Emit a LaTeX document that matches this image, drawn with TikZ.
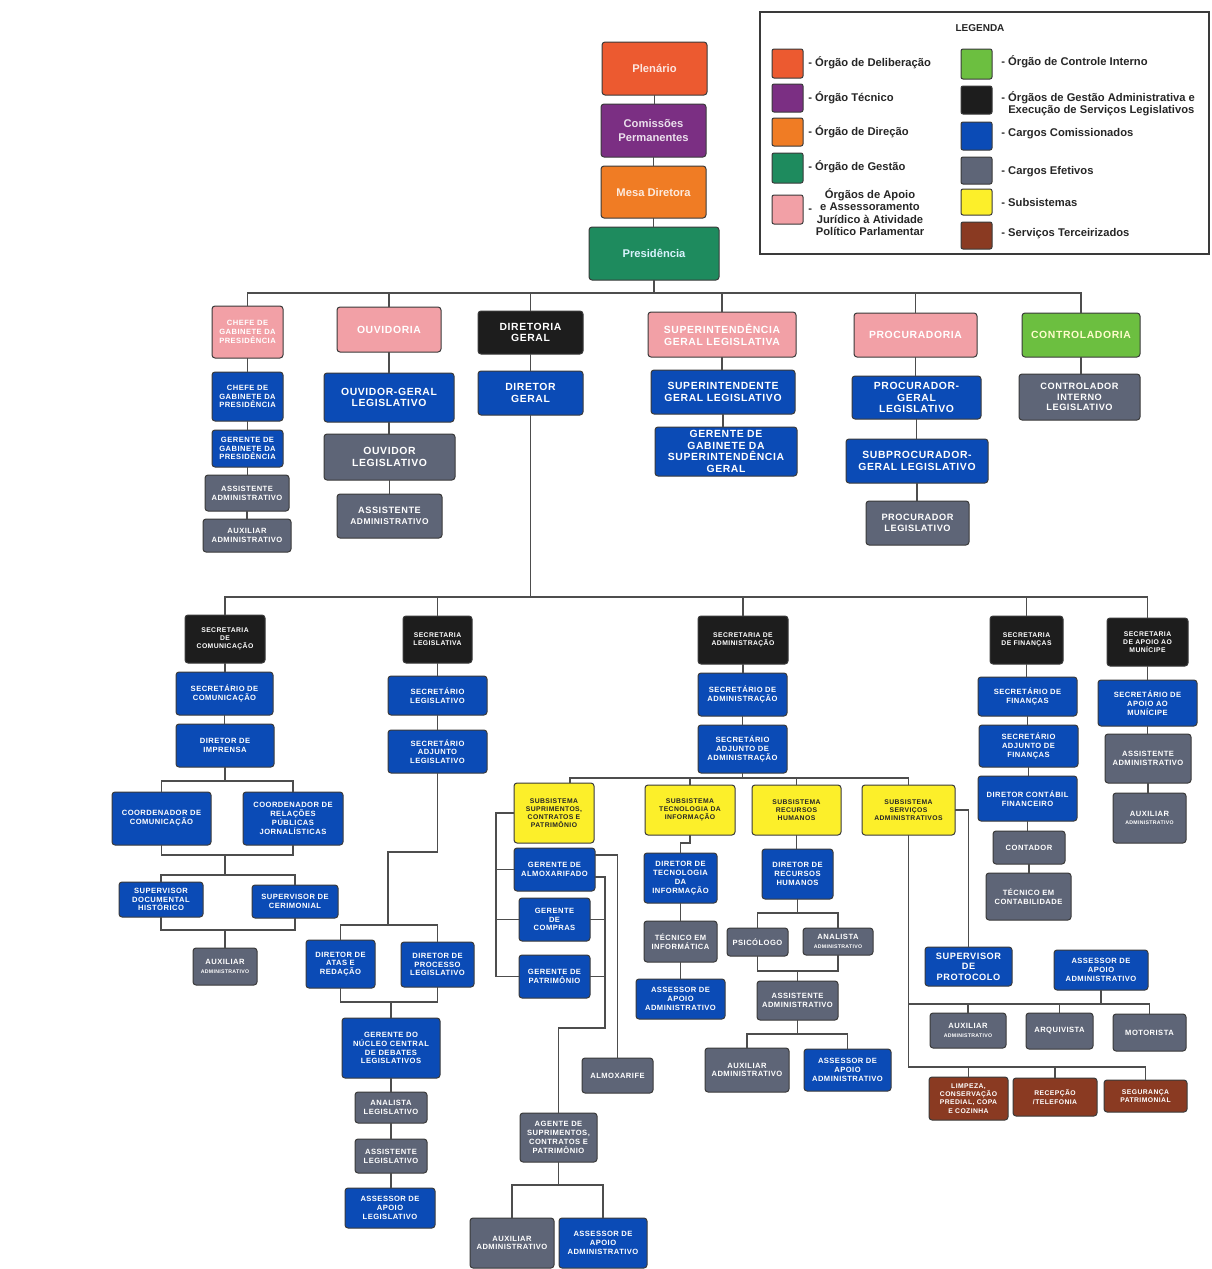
\documentclass[tikz,border=0pt]{standalone}
\usepackage{fontspec}
\setmainfont{Liberation Sans}
\newfontfamily\lsfont[LetterSpace=6]{Liberation Sans}
\definecolor{cblue}{HTML}{0B4BB6}
\definecolor{cgray}{HTML}{5E6577}
\definecolor{cblack}{HTML}{1D1D1D}
\definecolor{cpink}{HTML}{F2A0A6}
\definecolor{cyel}{HTML}{FCEF2A}
\definecolor{cbrown}{HTML}{8A3A22}
\definecolor{cctrl}{HTML}{6CBF40}
\definecolor{cplen}{HTML}{EC5A30}
\definecolor{cpurp}{HTML}{7B2F83}
\definecolor{corg}{HTML}{F07C24}
\definecolor{cgreen}{HTML}{1E8B5E}
\definecolor{linec}{HTML}{4D4D4D}
\definecolor{cbord}{HTML}{3A3A3A}
\newcommand\orgbox[7]{\node[#1, minimum width={(#5-#3)*0.5pt}, minimum height={(#6-#4)*0.5pt}] (#2) at ({(#3+#5)/2},{(#4+#6)/2}) {#7};}
\newcommand\tinyadm{{\fontsize{2.6}{3.2}\selectfont ADMINISTRATIVO}}
\tikzset{
  box/.style={draw=cbord, line width=0.5pt, rounded corners=1.5pt, inner sep=0.5pt, outer sep=0pt, align=center, text=white},
  bbox/.style={box, fill=cblue},
  gbox/.style={box, fill=cgray},
  kbox/.style={box, fill=cblack},
  pbox/.style={box, fill=cpink},
  ybox/.style={box, fill=cyel, text=black!85},
  rbox/.style={box, fill=cbrown},
  sT/.style={font=\bfseries\fontsize{5.6}{6.6}\selectfont},
  sBig/.style={font=\lsfont\bfseries\fontsize{5.2}{5.9}\selectfont},
  sMid/.style={font=\lsfont\bfseries\fontsize{4.6}{5.3}\selectfont},
  sSm/.style={font=\lsfont\bfseries\fontsize{3.8}{4.4}\selectfont},
  sXs/.style={font=\lsfont\bfseries\fontsize{3.4}{4.1}\selectfont},
  conn/.style={draw=linec, line width=0.8pt},
  sw/.style={draw=cbord, line width=0.5pt, rounded corners=1pt, inner sep=0pt},
  legt/.style={anchor=west, inner sep=0pt, align=left, text=black!85, font=\bfseries\fontsize{5.6}{6.2}\selectfont},
}
\begin{document}
\begin{tikzpicture}[x=0.5pt,y=-0.5pt]
\fill[white] (0,0) rectangle (1211,1269);
\useasboundingbox (0,0) rectangle (1211,1269);

% ---------- legend ----------
\draw[draw=cbord, line width=0.6pt] (760,12) rectangle (1209,254);
\node[font=\bfseries\fontsize{5}{6}\selectfont, text=black!85] (legtitle) at (980,28) {LEGENDA};
\orgbox{sw, fill=cplen}{sw1}{772}{49}{803}{78}{}
\orgbox{sw, fill=cpurp}{sw2}{772}{84}{803}{112}{}
\orgbox{sw, fill=corg}{sw3}{772}{118}{803}{146}{}
\orgbox{sw, fill=cgreen}{sw4}{772}{153}{803}{183}{}
\orgbox{sw, fill=cpink}{sw5}{772}{195}{803}{224}{}
\orgbox{sw, fill=cctrl}{sw6}{961}{49}{992}{79}{}
\orgbox{sw, fill=cblack}{sw7}{961}{86}{992}{114}{}
\orgbox{sw, fill=cblue}{sw8}{961}{122}{992}{150}{}
\orgbox{sw, fill=cgray}{sw9}{961}{157}{992}{184}{}
\orgbox{sw, fill=cyel}{sw10}{961}{189}{992}{215}{}
\orgbox{sw, fill=cbrown}{sw11}{961}{222}{992}{249}{}
\node[legt] (lt1) at (808,63) {- Órgão de Deliberação};
\node[legt] (lt2) at (808,98) {- Órgão Técnico};
\node[legt] (lt3) at (808,132) {- Órgão de Direção};
\node[legt] (lt4) at (808,167) {- Órgão de Gestão};
\node[legt] (lt5d) at (808,211) {-};
\node[legt, anchor=center, align=center, font=\bfseries\fontsize{5.6}{6.3}\selectfont] (lt5) at (870,212) {Órgãos de Apoio\\e Assessoramento\\Jurídico à Atividade\\Político Parlamentar};
\node[legt] (lt6) at (1001,62) {- Órgão de Controle Interno};
\node[legt] (lt7) at (1001,104) {- Órgãos de Gestão Administrativa e\\\hphantom{- }Execução de Serviços Legislativos};
\node[legt] (lt8) at (1001,134) {- Cargos Comissionados};
\node[legt] (lt9) at (1001,172) {- Cargos Efetivos};
\node[legt] (lt10) at (1001,202) {- Subsistemas};
\node[legt] (lt11) at (1001,234) {- Serviços Terceirizados};

% ---------- top chain ----------
\orgbox{box, fill=cplen, sT, text=white!85!cplen}{plen}{602}{42}{707}{95}{Plenário}
\orgbox{box, fill=cpurp, sT, text=white!85!cpurp}{comi}{601}{104}{706}{157}{Comissões\\Permanentes}
\orgbox{box, fill=corg, sT, text=white!85!corg}{mesa}{601}{166}{706}{218}{Mesa Diretora}
\orgbox{box, fill=cgreen, sT, text=white!85!cyan}{pres}{589}{227}{719}{280}{Presidência}

% ---------- level 2 ----------
\orgbox{pbox, sSm}{chefe}{212}{306}{283}{358}{CHEFE DE\\GABINETE DA\\PRESIDÊNCIA}
\orgbox{pbox, sBig}{ouv}{337}{307}{441}{352}{OUVIDORIA}
\orgbox{kbox, sBig}{dirg}{478}{311}{583}{354}{DIRETORIA\\GERAL}
\orgbox{pbox, sBig}{sup}{648}{312}{796}{357}{SUPERINTENDÊNCIA\\GERAL LEGISLATIVA}
\orgbox{pbox, sBig}{proc}{854}{313}{977}{357}{PROCURADORIA}
\orgbox{box, fill=cctrl, sBig, text=white!80!yellow}{ctrl}{1022}{313}{1140}{357}{CONTROLADORIA}

\orgbox{bbox, sSm}{chb}{212}{372}{283}{421}{CHEFE DE\\GABINETE DA\\PRESIDÊNCIA}
\orgbox{bbox, sSm}{geg}{212}{430}{283}{467}{GERENTE DE\\GABINETE DA\\PRESIDÊNCIA}
\orgbox{gbox, sSm}{asc}{205}{475}{289}{511}{ASSISTENTE\\ADMINISTRATIVO}
\orgbox{gbox, sSm}{auxc}{203}{519}{291}{552}{AUXILIAR\\ADMINISTRATIVO}

\orgbox{bbox, sBig}{ovg}{324}{373}{454}{422}{OUVIDOR-GERAL\\LEGISLATIVO}
\orgbox{gbox, sBig}{ovl}{324}{434}{455}{480}{OUVIDOR\\LEGISLATIVO}
\orgbox{gbox, sMid}{asov}{337}{494}{442}{538}{ASSISTENTE\\{\fontsize{4.2}{5}\selectfont ADMINISTRATIVO}}

\orgbox{bbox, sBig}{dgr}{478}{371}{583}{415}{DIRETOR\\GERAL}

\orgbox{bbox, sBig}{supt}{651}{370}{795}{414}{SUPERINTENDENTE\\GERAL LEGISLATIVO}
\orgbox{bbox, sBig}{ggs}{655}{427}{797}{476}{GERENTE DE\\GABINETE DA\\SUPERINTENDÊNCIA\\GERAL}

\orgbox{bbox, sBig}{pg}{852}{376}{981}{419}{PROCURADOR-\\GERAL\\LEGISLATIVO}
\orgbox{bbox, sBig}{spg}{846}{439}{988}{483}{SUBPROCURADOR-\\GERAL LEGISLATIVO}
\orgbox{gbox, sMid}{pl}{866}{501}{969}{545}{PROCURADOR\\LEGISLATIVO}

\orgbox{gbox, sMid}{ctl}{1019}{374}{1140}{420}{CONTROLADOR\\INTERNO\\LEGISLATIVO}

% ---------- level 3 ----------
\orgbox{kbox, sXs}{sc}{185}{615}{265}{663}{SECRETARIA\\DE\\COMUNICAÇÃO}
\orgbox{kbox, sXs}{sl}{403}{616}{472}{663}{SECRETARIA\\LEGISLATIVA}
\orgbox{kbox, sXs}{sa}{698}{616}{788}{664}{SECRETARIA DE\\ADMINISTRAÇÃO}
\orgbox{kbox, sXs}{sf}{990}{616}{1063}{664}{SECRETARIA\\DE FINANÇAS}
\orgbox{kbox, sXs}{sam}{1107}{618}{1188}{666}{SECRETARIA\\DE APOIO AO\\MUNÍCIPE}

% Comunicação
\orgbox{bbox, sSm}{scs}{176}{672}{273}{715}{SECRETÁRIO DE\\COMUNICAÇÃO}
\orgbox{bbox, sSm}{dimp}{176}{724}{274}{767}{DIRETOR DE\\IMPRENSA}
\orgbox{bbox, sSm}{cc}{112}{792}{211}{845}{COORDENADOR DE\\COMUNICAÇÃO}
\orgbox{bbox, sSm}{crp}{243}{792}{343}{845}{COORDENADOR DE\\RELAÇÕES\\PÚBLICAS\\JORNALÍSTICAS}
\orgbox{bbox, sSm}{svd}{119}{882}{203}{917}{SUPERVISOR\\DOCUMENTAL\\HISTÓRICO}
\orgbox{bbox, sSm}{svc}{252}{885}{338}{918}{SUPERVISOR DE\\CERIMONIAL}
\orgbox{gbox, sSm}{auxa}{193}{948}{257}{985}{AUXILIAR\\\tinyadm}

% Legislativa
\orgbox{bbox, sSm}{slg}{388}{676}{487}{715}{SECRETÁRIO\\LEGISLATIVO}
\orgbox{bbox, sSm}{sadj}{388}{730}{487}{773}{SECRETÁRIO\\ADJUNTO\\LEGISLATIVO}
\orgbox{bbox, sSm}{datas}{306}{940}{375}{988}{DIRETOR DE\\ATAS E\\REDAÇÃO}
\orgbox{bbox, sSm}{dproc}{401}{942}{474}{987}{DIRETOR DE\\PROCESSO\\LEGISLATIVO}
\orgbox{bbox, sSm}{gnc}{342}{1018}{440}{1078}{GERENTE DO\\NÚCLEO CENTRAL\\DE DEBATES\\LEGISLATIVOS}
\orgbox{gbox, sSm}{anl}{355}{1092}{427}{1123}{ANALISTA\\LEGISLATIVO}
\orgbox{gbox, sSm}{asl}{355}{1139}{427}{1173}{ASSISTENTE\\LEGISLATIVO}
\orgbox{bbox, sSm}{aapl}{345}{1188}{435}{1228}{ASSESSOR DE\\APOIO\\LEGISLATIVO}

% Administração
\orgbox{bbox, sSm}{sas}{698}{673}{787}{716}{SECRETÁRIO DE\\ADMINISTRAÇÃO}
\orgbox{bbox, sSm}{saj}{698}{725}{787}{773}{SECRETÁRIO\\ADJUNTO DE\\ADMINISTRAÇÃO}
\orgbox{ybox, sXs}{ssup}{514}{783}{594}{843}{SUBSISTEMA\\SUPRIMENTOS,\\CONTRATOS E\\PATRIMÔNIO}
\orgbox{ybox, sXs}{sti}{645}{785}{735}{835}{SUBSISTEMA\\TECNOLOGIA DA\\INFORMAÇÃO}
\orgbox{ybox, sXs}{srh}{752}{785}{841}{835}{SUBSISTEMA\\RECURSOS\\HUMANOS}
\orgbox{ybox, sXs}{sserv}{862}{785}{955}{835}{SUBSISTEMA\\SERVIÇOS\\ADMINISTRATIVOS}

\orgbox{bbox, sSm}{galm}{514}{848}{595}{891}{GERENTE DE\\ALMOXARIFADO}
\orgbox{bbox, sSm}{gcomp}{519}{898}{590}{941}{GERENTE\\DE\\COMPRAS}
\orgbox{bbox, sSm}{gpat}{519}{955}{590}{998}{GERENTE DE\\PATRIMÔNIO}
\orgbox{gbox, sSm}{almx}{582}{1058}{653}{1093}{ALMOXARIFE}
\orgbox{gbox, sSm}{agt}{520}{1113}{597}{1162}{AGENTE DE\\SUPRIMENTOS,\\CONTRATOS E\\PATRIMÔNIO}
\orgbox{gbox, sSm}{auxb}{470}{1218}{554}{1268}{AUXILIAR\\ADMINISTRATIVO}
\orgbox{bbox, sSm}{aspb}{559}{1218}{647}{1268}{ASSESSOR DE\\APOIO\\ADMINISTRATIVO}

\orgbox{bbox, sSm}{dti}{644}{853}{717}{903}{DIRETOR DE\\TECNOLOGIA\\DA\\INFORMAÇÃO}
\orgbox{gbox, sSm}{tinf}{644}{921}{717}{962}{TÉCNICO EM\\INFORMÁTICA}
\orgbox{bbox, sSm}{aati}{636}{979}{725}{1019}{ASSESSOR DE\\APOIO\\ADMINISTRATIVO}

\orgbox{bbox, sSm}{drh}{762}{849}{833}{899}{DIRETOR DE\\RECURSOS\\HUMANOS}
\orgbox{gbox, sSm}{psi}{727}{928}{788}{956}{PSICÓLOGO}
\orgbox{gbox, sSm}{anadm}{803}{928}{873}{955}{ANALISTA\\\tinyadm}
\orgbox{gbox, sSm}{asrh}{757}{981}{838}{1020}{ASSISTENTE\\ADMINISTRATIVO}
\orgbox{gbox, sSm}{auxrh}{705}{1048}{789}{1092}{AUXILIAR\\ADMINISTRATIVO}
\orgbox{bbox, sSm}{aarh}{804}{1049}{891}{1091}{ASSESSOR DE\\APOIO\\ADMINISTRATIVO}

\orgbox{bbox, sMid}{sprot}{925}{947}{1012}{986}{SUPERVISOR\\DE\\PROTOCOLO}
\orgbox{bbox, sSm}{aass}{1054}{950}{1148}{990}{ASSESSOR DE\\APOIO\\ADMINISTRATIVO}
\orgbox{gbox, sSm}{auxs}{930}{1013}{1006}{1048}{AUXILIAR\\\tinyadm}
\orgbox{gbox, sSm}{arq}{1026}{1013}{1093}{1049}{ARQUIVISTA}
\orgbox{gbox, sSm}{mot}{1113}{1014}{1186}{1051}{MOTORISTA}
\orgbox{rbox, sXs}{limp}{929}{1077}{1008}{1120}{LIMPEZA,\\CONSERVAÇÃO\\PREDIAL, COPA\\E COZINHA}
\orgbox{rbox, sXs}{rec}{1013}{1078}{1097}{1116}{RECEPÇÃO\\/TELEFONIA}
\orgbox{rbox, sXs}{seg}{1104}{1080}{1187}{1112}{SEGURANÇA\\PATRIMONIAL}

% Finanças
\orgbox{bbox, sSm}{sfs}{978}{677}{1077}{716}{SECRETÁRIO DE\\FINANÇAS}
\orgbox{bbox, sSm}{sfa}{979}{725}{1078}{767}{SECRETÁRIO\\ADJUNTO DE\\FINANÇAS}
\orgbox{bbox, sSm}{dcf}{978}{776}{1077}{821}{DIRETOR CONTÁBIL\\FINANCEIRO}
\orgbox{gbox, sSm}{cont}{993}{831}{1065}{864}{CONTADOR}
\orgbox{gbox, sSm}{tcont}{986}{873}{1071}{920}{TÉCNICO EM\\CONTABILIDADE}

% Munícipe
\orgbox{bbox, sSm}{sams}{1098}{680}{1197}{726}{SECRETÁRIO DE\\APOIO AO\\MUNÍCIPE}
\orgbox{gbox, sSm}{asam}{1105}{734}{1191}{783}{ASSISTENTE\\ADMINISTRATIVO}
\orgbox{gbox, sSm}{auxam}{1113}{793}{1186}{843}{AUXILIAR\\\tinyadm}

% ---------- connectors ----------
\begin{scope}[conn]
% vertical chains
\foreach \a/\b in {plen/comi, comi/mesa, mesa/pres,
  chefe/chb, chb/geg, geg/asc, asc/auxc,
  ouv/ovg, ovg/ovl, ovl/asov, dirg/dgr,
  sup/supt, supt/ggs, proc/pg, pg/spg, spg/pl, ctrl/ctl,
  sc/scs, scs/dimp, sl/slg, slg/sadj,
  gnc/anl, anl/asl, asl/aapl,
  sa/sas, sas/saj, dti/tinf, tinf/aati, srh/drh,
  sf/sfs, sfs/sfa, sfa/dcf, dcf/cont, cont/tcont,
  sam/sams, sams/asam, asam/auxam}
  \draw (\a.south) -- (\a.south |- \b.north);

% level 2 bus
\coordinate (b2) at (0,293);
\draw (pres.south) -- (pres.south |- b2);
\foreach \c in {chefe,ouv,dirg,sup,proc,ctrl}
  \draw (\c.north) -- (\c.north |- b2) -- (pres.south |- b2);

% level 3 bus
\coordinate (b3) at (0,597);
\draw (dgr.south) -- (dgr.south |- b3);
\foreach \c in {sc,sl,sa,sf,sam}
  \draw (\c.north) -- (\c.north |- b3) -- (dgr.south |- b3);

% Comunicação
\coordinate (c1) at (0,781);
\coordinate (c2) at (0,855);
\coordinate (c3) at (0,875);
\coordinate (c4) at (0,930);
\draw (dimp.south) -- (dimp.south |- c1);
\foreach \c in {cc,crp}
  \draw (\c.north) -- (\c.north |- c1) -- (dimp.south |- c1);
\draw (cc.south) -- (cc.south |- c2) -- (crp.south |- c2) -- (crp.south);
\draw (dimp.south |- c2) -- (dimp.south |- c3);
\draw (svd.north) -- (svd.north |- c3) -- (svc.north |- c3) -- (svc.north);
\draw (svd.south) -- (svd.south |- c4) -- (svc.south |- c4) -- (svc.south);
\draw (auxa.north) -- (auxa.north |- c4);

% Legislativa
\coordinate (l1) at (388,852);
\coordinate (l2) at (0,925);
\coordinate (l3) at (0,1002);
\draw (sadj.south) -- (sadj.south |- l1) -- (l1) -- (l1 |- l2);
\draw (datas.north) -- (datas.north |- l2) -- (dproc.north |- l2) -- (dproc.north);
\draw (datas.south) -- (datas.south |- l3) -- (dproc.south |- l3) -- (dproc.south);
\draw (gnc.north) -- (gnc.north |- l3);

% Administração bus
\coordinate (a1) at (0,778);
\coordinate (supdrop) at (570,0);
\draw (saj.south) -- (saj.south |- a1);
\draw (ssup.north -| supdrop) -- (supdrop |- a1) -- (saj.south |- a1);
\foreach \c in {sti,srh,sserv}
  \draw (\c.north) -- (\c.north |- a1) -- (saj.south |- a1);

% Suprimentos
\coordinate (s1) at (496,0);
\draw (ssup.west) -- (ssup.west -| s1) -- (gpat.west -| s1) -- (gpat.west);
\draw (galm.west) -- (galm.west -| s1);
\draw (gcomp.west) -- (gcomp.west -| s1);
\coordinate (r1) at (0,855);
\coordinate (r0) at (0,877);
\coordinate (r2) at (605,0);
\coordinate (r3) at (0,1028);
\coordinate (r4) at (0,1185);
\draw (galm.east |- r1) -- (almx.north |- r1) -- (almx.north);
\draw (galm.east |- r0) -- (r2 |- r0) -- (r2 |- r3) -- (agt.north |- r3) -- (agt.north);
\draw (gcomp.east) -- (gcomp.east -| r2);
\draw (gpat.east) -- (gpat.east -| r2);
\draw (agt.south) -- (agt.south |- r4);
\foreach \c in {auxb,aspb}
  \draw (\c.north) -- (\c.north |- r4) -- (agt.south |- r4);

% TI
\coordinate (t1) at (0,843);
\draw (sti.south) -- (sti.south |- t1) -- (dti.north |- t1) -- (dti.north);

% RH
\coordinate (h1) at (0,913);
\coordinate (h2) at (0,971);
\coordinate (h3) at (0,1034);
\draw (drh.south) -- (drh.south |- h1);
\foreach \c in {psi,anadm}
  \draw (\c.north) -- (\c.north |- h1) -- (drh.south |- h1);
\draw (psi.south) -- (psi.south |- h2) -- (anadm.south |- h2) -- (anadm.south);
\draw (asrh.north) -- (asrh.north |- h2);
\draw (asrh.south) -- (asrh.south |- h3);
\foreach \c in {auxrh,aarh}
  \draw (\c.north) -- (\c.north |- h3) -- (asrh.south |- h3);

% Serviços
\coordinate (v1) at (0,1067);
\coordinate (v2) at (0,1004);
\draw (sserv.south) -- (sserv.south |- v1) -- (seg.north |- v1) -- (seg.north);
\draw (limp.north) -- (limp.north |- v1);
\draw (rec.north) -- (rec.north |- v1);
\draw (sserv.south |- v2) -- (mot.north |- v2) -- (mot.north);
\draw (auxs.north) -- (auxs.north |- v2);
\draw (arq.north) -- (arq.north |- v2);
\draw (aass.south) -- (aass.south |- v2);
\draw (sserv.east) -- (sserv.east -| sprot.north) -- (sprot.north);
\end{scope}
\end{tikzpicture}
\end{document}
